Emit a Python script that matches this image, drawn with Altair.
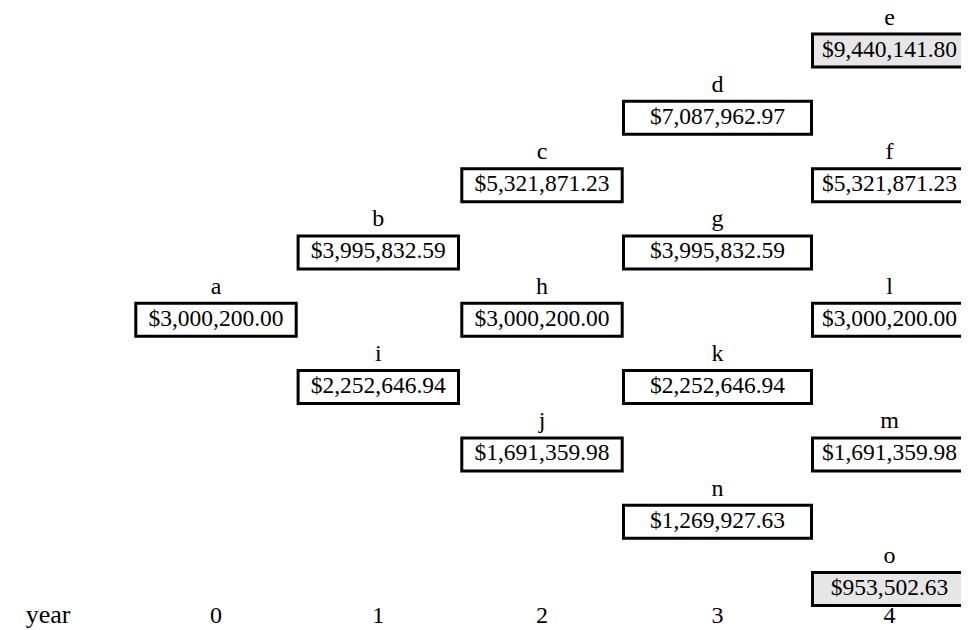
import altair as alt
import pandas as pd

# ---- data ----
nodes = ["a", "b", "c", "d", "e", "f", "g", "h", "i", "j", "k", "l", "m", "n", "o"]
years = [0, 1, 2, 3, 4, 4, 3, 2, 1, 2, 3, 4, 4, 3, 4]
levels = [4, 3, 2, 1, 0, 2, 3, 4, 5, 6, 5, 4, 6, 7, 8]
values = [3000200.00, 3995832.59, 5321871.23, 7087962.97, 9440141.80,
          5321871.23, 3995832.59, 3000200.00, 2252646.94, 1691359.98,
          2252646.94, 3000200.00, 1691359.98, 1269927.63, 953502.63]
highlight = ["e", "o"]
year_ticks = [0, 1, 2, 3, 4]
axis_label = "year"

df = pd.DataFrame({"node": nodes, "year": years, "level": levels, "value": values})
df["hl"] = df["node"].isin(highlight)
ydf = pd.DataFrame({"year": year_ticks})

FONT = "Liberation Serif"
FS = 23.5

xscale = alt.Scale(domain=[0, 1, 2, 3, 4], range=[208, 370.3, 534, 709.5, 881.5])
yscale = alt.Scale(domain=[0, 8], range=[42.5, 581])

X = alt.X("year:Q", scale=xscale, axis=None)
Y = alt.Y("level:Q", scale=yscale, axis=None)

base = alt.Chart(df)

fill = alt.condition("datum.hl", alt.value("#e6e6e6"), alt.value("white"))


def boxes(cond, half, shift=0):
    return base.transform_filter(cond).mark_rect(
        stroke="black", strokeWidth=3,
        xOffset=-half + shift, x2Offset=half + shift,
        yOffset=-16.5, y2Offset=16.5,
    ).encode(x=X, x2="year:Q", y=Y, y2="level:Q", fill=fill)


box_a = boxes("datum.year <= 2", 80.2)
box_b = boxes("datum.year == 3", 94)
box_c = boxes("datum.year == 4", 78, 1)

vals = base.mark_text(font=FONT, fontSize=FS, color="black", baseline="alphabetic", dy=6).encode(
    x=X, y=Y, text=alt.Text("value:Q", format="$,.2f"))

letters = base.mark_text(font=FONT, fontSize=24, color="black", baseline="alphabetic", dy=-26).encode(
    x=X, y=Y, text="node:N")

yr = alt.Chart(ydf).mark_text(font=FONT, fontSize=24, color="black", baseline="alphabetic").encode(
    x=X, y=alt.value(615), text="year:Q")

yr_label = alt.Chart(pd.DataFrame({"t": [axis_label]})).mark_text(
    font=FONT, fontSize=26, color="black", baseline="alphabetic").encode(
    x=alt.value(40), y=alt.value(615), text="t:N")

chart = alt.layer(box_a, box_b, box_c, vals, letters, yr, yr_label).properties(
    width=953, height=622, padding=0, autosize=alt.AutoSizeParams(type="none")
).configure_view(stroke=None)

chart.save("out.html", embed_options={"renderer": "svg", "actions": False})
